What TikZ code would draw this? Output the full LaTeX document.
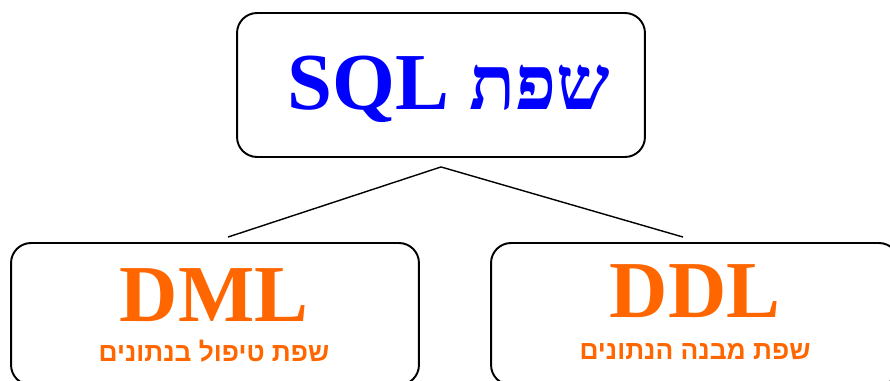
\documentclass[tikz,border=0pt]{standalone}
\usepackage{fontspec}
\setmainfont{Liberation Serif}
\newfontfamily\hebserif[Script=Hebrew]{Liberation Serif}
\newfontfamily\hebsans[Script=Hebrew]{Liberation Sans}
\TeXXeTstate=1
\definecolor{sqlblue}{RGB}{0,0,255}
\definecolor{langorange}{RGB}{255,102,0}
\tikzset{
	box/.style={draw=black, line width=1.1pt, rounded corners=0.4cm, minimum width=8.16cm, inner sep=0pt},
	bigtext/.style={anchor=base, inner sep=0pt, font=\bfseries\fontsize{46}{50}\selectfont, text=langorange},
	subtext/.style={anchor=base, inner sep=0pt, font=\hebsans\bfseries\fontsize{15}{18}\selectfont, text=langorange},
	link/.style={line width=0.8pt}
}
\begin{document}
\begin{tikzpicture}[x=0.02cm, y=-0.02cm]
		
		\useasboundingbox (0,0) rectangle (890,381);
		\clip (0,0) rectangle (890,381);
		
		% top
		\node[box, minimum height=2.88cm] (sql) at (441,85) {};
		\node[anchor=base, inner sep=0pt, text=sqlblue, font=\bfseries\fontsize{46}{54}\selectfont] (sqltext) at (449,110) {\beginR{\hebserif\fontsize{43}{54}\selectfont שפת} \beginL SQL\endL\endR};
		
		% left
		\node[box, minimum height=2.84cm] (dmlbox) at (215,314) {};
		\node[bigtext] (dml) at (214,322) {DML};
		\node[subtext] (dmlsub) at (214,362) {\beginR שפת טיפול בנתונים\endR};
		
		% right
		\node[box, minimum height=2.84cm] (ddlbox) at (695,314) {};
		\node[bigtext] (ddl) at (695,318) {DDL};
		\node[subtext] (ddlsub) at (695,360) {\beginR שפת מבנה הנתונים\endR};
		
		% connectors
		\coordinate (apex) at ([yshift=-0.18cm]sql.south);
		\draw[link] (apex) -- ([xshift=0.26cm, yshift=0.1cm]dmlbox.north);
		\draw[link] (apex) -- ([xshift=-0.24cm, yshift=0.1cm]ddlbox.north);
		
	\end{tikzpicture}
\end{document}
